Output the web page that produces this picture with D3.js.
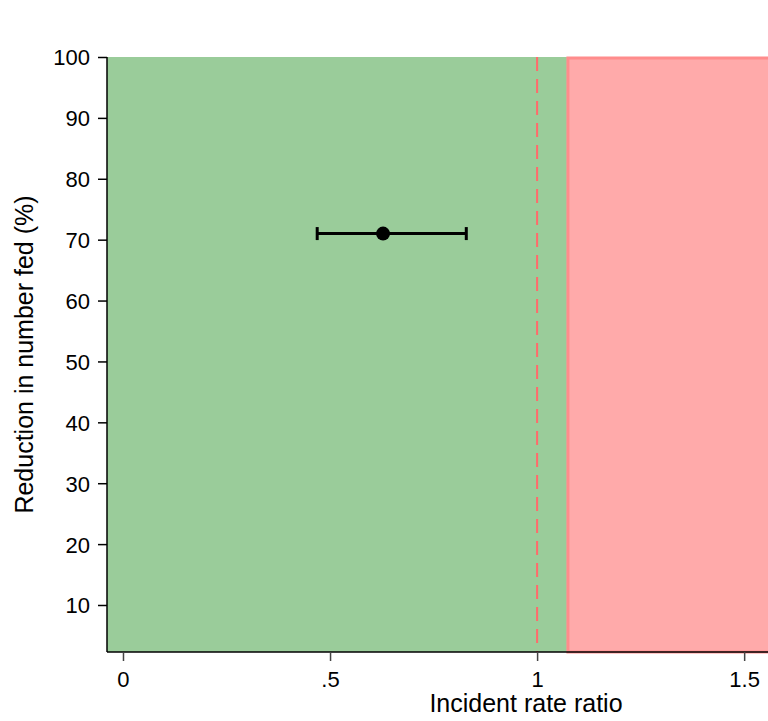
<!DOCTYPE html>
<html>
<head>
<meta charset="utf-8">
<script src="https://cdn.jsdelivr.net/npm/d3@7"></script>
<style>
  body { margin: 0; background: #fff; overflow: hidden; }
  text { font-family: "Liberation Sans", Arial, Helvetica, sans-serif; fill: #000; }
</style>
</head>
<body>
<div id="chart"></div>
<script>
  // data
  var xTicks = [0, 0.5, 1, 1.5];
  var xTickLabels = ["0", ".5", "1", "1.5"];
  var yTicks = [10, 20, 30, 40, 50, 60, 70, 80, 90, 100];
  var estimate = [{ irr: 0.628, lo: 0.469, hi: 0.829, reduction: 71 }];
  var zoneBreak = 1.072;   // green below, red above
  var refLine = 1;

  var width = 768, height = 721;
  var margin = { left: 107, top: 57, bottom: 69 };
  var plotRight = 945;   // plot runs past the window edge

  var x = d3.scaleLinear().domain([-0.0386, 1.985]).range([margin.left, plotRight]);
  var y = d3.scaleLinear().domain([2.28, 100]).range([height - margin.bottom, margin.top]);

  var svg = d3.select("#chart").append("svg")
    .attr("width", width)
    .attr("height", height);

  // zones
  svg.append("rect")
    .attr("x", x(x.domain()[0]))
    .attr("y", y(100))
    .attr("width", x(zoneBreak) - x(x.domain()[0]))
    .attr("height", y(y.domain()[0]) - y(100))
    .attr("fill", "#9acc9a");

  svg.append("rect")
    .attr("x", x(zoneBreak) + 1)
    .attr("y", y(100) + 1)
    .attr("width", plotRight - x(zoneBreak))
    .attr("height", y(y.domain()[0]) - y(100) - 1)
    .attr("fill", "#ffaaaa")
    .attr("stroke", "#ff8c8c")
    .attr("stroke-width", 3);

  // reference line
  svg.append("line")
    .attr("x1", x(refLine)).attr("x2", x(refLine))
    .attr("y1", y(100)).attr("y2", y(y.domain()[0]))
    .attr("stroke", "#ff6b6b")
    .attr("stroke-width", 2)
    .attr("stroke-dasharray", "14,8");

  // axes
  var yAxis = d3.axisLeft(y).tickValues(yTicks).tickSize(9).tickPadding(8);
  var gy = svg.append("g").attr("transform", "translate(" + margin.left + ",0)").call(yAxis);
  gy.select(".domain").attr("d", "M0," + y(y.domain()[0]) + "V" + y(100)).attr("stroke-width", 1.5);
  gy.selectAll(".tick line").attr("stroke-width", 1.5);
  gy.selectAll("text").attr("font-size", 22).attr("dy", "0.36em");

  var xAxis = d3.axisBottom(x).tickValues(xTicks).tickSize(9).tickPadding(10)
    .tickFormat(function(d, i) { return xTickLabels[i]; });
  var gx = svg.append("g").attr("transform", "translate(0," + y(y.domain()[0]) + ")").call(xAxis);
  gx.select(".domain").attr("d", "M" + margin.left + ",0H" + plotRight).attr("stroke-width", 1.5);
  gx.selectAll(".tick line").attr("stroke", "#444").attr("stroke-width", 1.5);
  gx.selectAll("text").attr("font-size", 22);

  // axis titles
  svg.append("text")
    .attr("x", (margin.left + plotRight) / 2)
    .attr("y", 712)
    .attr("text-anchor", "middle")
    .attr("font-size", 25)
    .text("Incident rate ratio");

  svg.append("text")
    .attr("transform", "translate(33," + (y(100) + y(y.domain()[0])) / 2 + ") rotate(-90)")
    .attr("text-anchor", "middle")
    .attr("font-size", 25)
    .text("Reduction in number fed (%)");

  // estimate with CI
  var est = svg.append("g").selectAll("g").data(estimate).enter().append("g");
  est.append("line")
    .attr("x1", function(d) { return x(d.lo); })
    .attr("x2", function(d) { return x(d.hi); })
    .attr("y1", function(d) { return y(d.reduction); })
    .attr("y2", function(d) { return y(d.reduction); })
    .attr("stroke", "#000").attr("stroke-width", 3);
  ["lo", "hi"].forEach(function(k) {
    est.append("line")
      .attr("x1", function(d) { return x(d[k]); })
      .attr("x2", function(d) { return x(d[k]); })
      .attr("y1", function(d) { return y(d.reduction) - 6.5; })
      .attr("y2", function(d) { return y(d.reduction) + 6.5; })
      .attr("stroke", "#000").attr("stroke-width", 3);
  });
  est.append("circle")
    .attr("cx", function(d) { return x(d.irr); })
    .attr("cy", function(d) { return y(d.reduction); })
    .attr("r", 7)
    .attr("fill", "#000");
</script>
</body>
</html>
